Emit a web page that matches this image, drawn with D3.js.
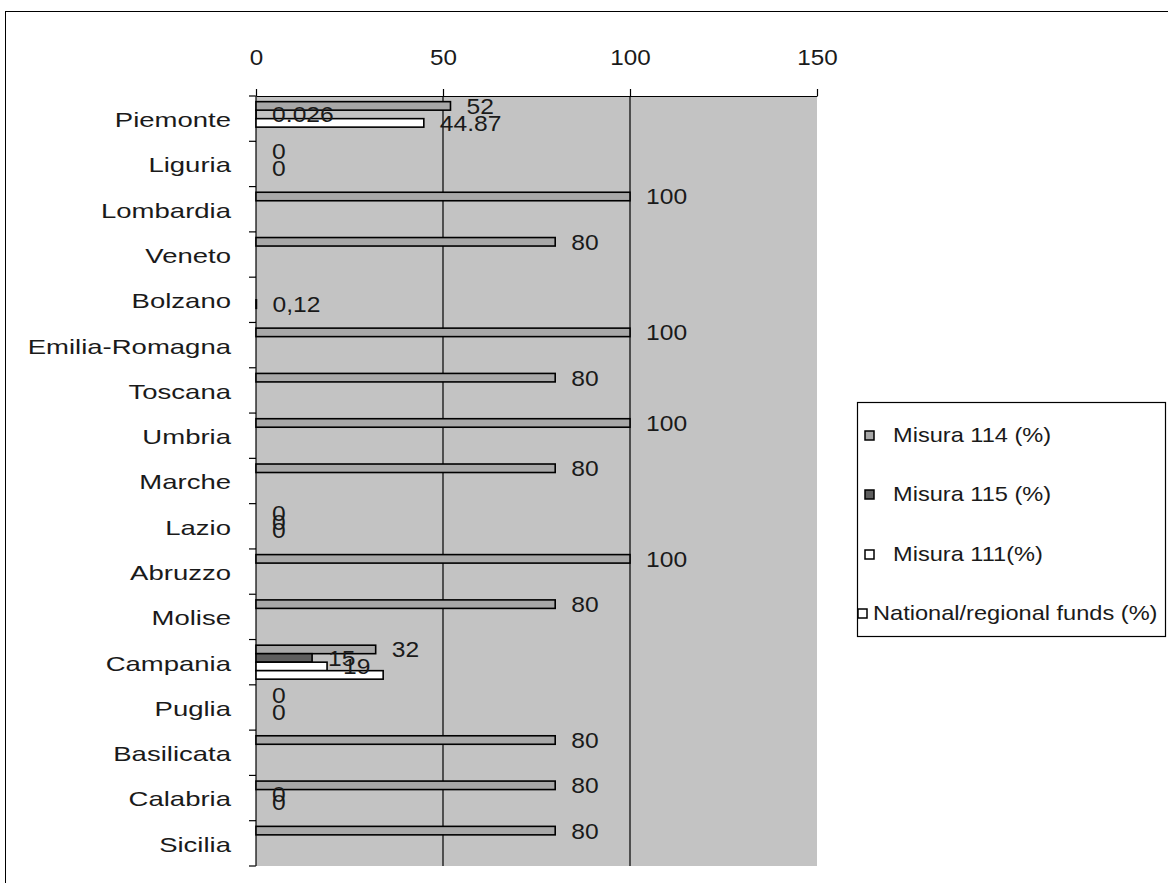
<!DOCTYPE html>
<html>
<head>
<meta charset="utf-8">
<script src="https://cdn.jsdelivr.net/npm/d3@7"></script>
<style>
  html, body { margin: 0; padding: 0; background: #ffffff; }
  svg { display: block; }
  text { font-family: "Liberation Sans", Arial, sans-serif; fill: #1a1a1a; }
</style>
</head>
<body>
<svg id="chart" width="1168" height="883"></svg>
<script>
// Regions, top to bottom
const categories = ["Piemonte", "Liguria", "Lombardia", "Veneto", "Bolzano", "Emilia-Romagna",
  "Toscana", "Umbria", "Marche", "Lazio", "Abruzzo", "Molise", "Campania", "Puglia",
  "Basilicata", "Calabria", "Sicilia"];

// Values as printed on the bar labels (null = no bar)
const misura114 = ["52", "0", "100", "80", null, "100", "80", "100", "80", "0", "100", "80", "32", "0", "80", "80", "80"];
const misura115 = ["0.026", null, null, null, null, null, null, null, null, "0", null, null, "15", null, null, "0", null];
const misura111 = ["44.87", "0", null, null, "0,12", null, null, null, null, "0", null, null, "19", "0", null, "0", null];
const nationalFunds = [null, null, null, null, null, null, null, null, null, null, null, null, "34", null, null, null, null];

const seriesNames = ["Misura 114 (%)", "Misura 115 (%)", "Misura 111(%)", "National/regional funds (%)"];
const seriesValues = [misura114, misura115, misura111, nationalFunds];
const seriesShowLabels = [true, true, true, false];
const seriesFill = ["#a8a8a8", "#5e5e5e", "#ffffff", "#ffffff"];

const xTicks = [0, 50, 100, 150];

const toNumber = s => +String(s).replace(",", ".");

// the chart's lettering is set slightly wide
const catStretch = 1.31, labelStretch = 1.12, legendStretch = 1.18, tickStretch = 1.1;

const svg = d3.select("#chart");

// outer chart frame
svg.append("rect").attr("x", 5.5).attr("y", 11.5).attr("width", 1200).attr("height", 900)
  .attr("fill", "#ffffff").attr("stroke", "#000").attr("stroke-width", 1);

const plot = { left: 256, right: 817, top: 96, bottom: 866 };

const x = d3.scaleLinear().domain([0, 150]).range([plot.left, plot.right]);
const y = d3.scaleBand().domain(categories).range([plot.top, plot.bottom])
  .paddingInner(0.25).paddingOuter(0.125);
const ySeries = d3.scaleBand().domain(d3.range(seriesNames.length)).range([0, y.bandwidth()]);

// plot background
svg.append("rect").attr("x", plot.left).attr("y", plot.top)
  .attr("width", plot.right - plot.left).attr("height", plot.bottom - plot.top)
  .attr("fill", "#c3c3c3");

// vertical grid lines
svg.append("g").selectAll("line").data(xTicks.filter(t => t > 0 && t < 150)).join("line")
  .attr("x1", d => x(d)).attr("x2", d => x(d))
  .attr("y1", plot.top).attr("y2", plot.bottom)
  .attr("stroke", "#000").attr("stroke-width", 1.2);

// top value axis
const xAxis = svg.append("g").attr("transform", `translate(0,${plot.top})`)
  .call(d3.axisTop(x).tickValues(xTicks).tickSize(7).tickPadding(24).tickSizeOuter(0));
xAxis.select(".domain").attr("stroke", "#000").attr("stroke-width", 1.2);
xAxis.selectAll(".tick line").attr("stroke", "#000").attr("stroke-width", 1.2);
xAxis.selectAll(".tick text").attr("font-size", 22).attr("font-family", "Liberation Sans, Arial, sans-serif")
  .attr("fill", "#1a1a1a").attr("transform", `scale(${tickStretch},1)`);

// left category axis
const yPad = 25;
const yAxis = svg.append("g").attr("transform", `translate(${plot.left},0)`)
  .call(d3.axisLeft(y).tickSize(0).tickPadding(yPad));
yAxis.select(".domain").remove();
yAxis.selectAll(".tick text").attr("font-size", 21).attr("font-family", "Liberation Sans, Arial, sans-serif")
  .attr("fill", "#1a1a1a").attr("x", -yPad / catStretch).attr("dy", "0.4em")
  .attr("transform", `scale(${catStretch},1)`);

const boundaries = categories.map(c => y(c) - y.step() * y.paddingInner() / 2).concat([plot.bottom]);
svg.append("g").selectAll("line").data(boundaries).join("line")
  .attr("x1", plot.left - 7).attr("x2", plot.left)
  .attr("y1", d => d).attr("y2", d => d)
  .attr("stroke", "#000").attr("stroke-width", 1.2);
svg.append("line").attr("x1", plot.left).attr("x2", plot.left)
  .attr("y1", plot.top).attr("y2", plot.bottom).attr("stroke", "#000").attr("stroke-width", 1.2);

// bars
const barData = [];
seriesValues.forEach((vals, si) => {
  vals.forEach((v, ci) => {
    if (v !== null) barData.push({ series: si, cat: categories[ci], text: v, value: toNumber(v) });
  });
});

svg.append("g").selectAll("rect").data(barData.filter(d => d.value > 0)).join("rect")
  .attr("x", x(0))
  .attr("y", d => y(d.cat) + ySeries(d.series))
  .attr("width", d => x(d.value) - x(0))
  .attr("height", ySeries.bandwidth())
  .attr("fill", d => seriesFill[d.series])
  .attr("stroke", "#000").attr("stroke-width", 1.6);

// value labels
svg.append("g").selectAll("text").data(barData.filter(d => seriesShowLabels[d.series])).join("text")
  .attr("transform", d => `translate(${x(d.value) + 16},${y(d.cat) + ySeries(d.series) + ySeries.bandwidth() / 2}) scale(${labelStretch},1)`)
  .attr("dy", "0.36em")
  .attr("font-size", 22)
  .text(d => d.text);

// legend
const legend = svg.append("g");
legend.append("rect").attr("x", 857.5).attr("y", 402.5).attr("width", 308).attr("height", 234)
  .attr("fill", "#ffffff").attr("stroke", "#000").attr("stroke-width", 1.2);
const legendY = [435, 494, 554, 613];
const legendMarkerX = [865, 865, 865, 858];
const legendTextX = [893, 893, 893, 873];
seriesNames.forEach((name, i) => {
  legend.append("rect").attr("x", legendMarkerX[i]).attr("y", legendY[i] - 4)
    .attr("width", 9).attr("height", 9)
    .attr("fill", seriesFill[i]).attr("stroke", "#000").attr("stroke-width", 1.5);
  legend.append("text")
    .attr("transform", `translate(${legendTextX[i]},${legendY[i]}) scale(${legendStretch},1)`)
    .attr("dy", "0.36em")
    .attr("font-size", 20).text(name);
});
</script>
</body>
</html>
